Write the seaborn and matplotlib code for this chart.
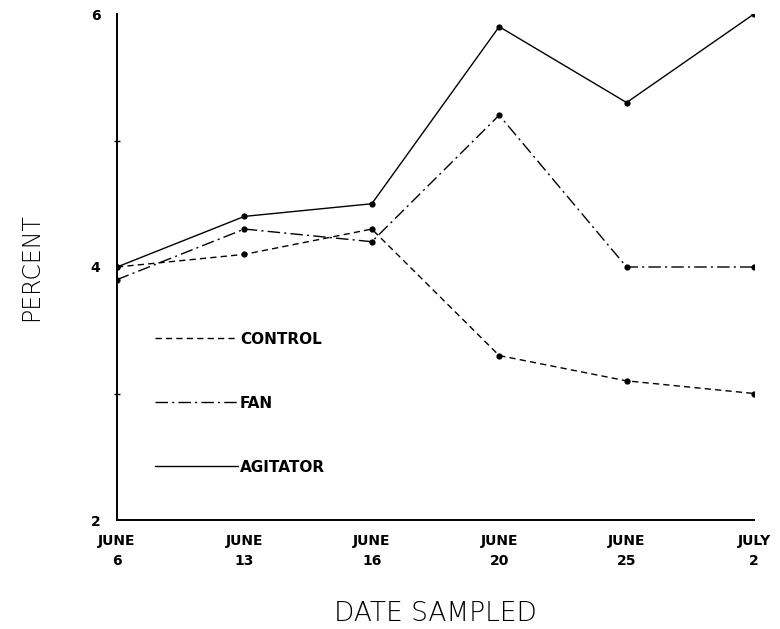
import matplotlib
matplotlib.use("Agg")
import matplotlib.pyplot as plt
import seaborn as sns
import pandas as pd

dates = ["JUNE\n6", "JUNE\n13", "JUNE\n16", "JUNE\n20", "JUNE\n25", "JULY\n2"]
control = [4.0, 4.1, 4.3, 3.3, 3.1, 3.0]
fan = [3.9, 4.3, 4.2, 5.2, 4.0, 4.0]
agitator = [4.0, 4.4, 4.5, 5.9, 5.3, 6.0]
series_names = ["CONTROL", "FAN", "AGITATOR"]
y_major = [2, 4, 6]
y_minor = [3, 5]

rows = []
for name, vals in zip(series_names, [control, fan, agitator]):
    for d, v in zip(dates, vals):
        rows.append({"date": d, "percent": v, "series": name})
df = pd.DataFrame(rows)

sns.set_theme(style="white")
plt.rcParams["font.family"] = ["DejaVu Sans"]
plt.rcParams["text.color"] = "black"
plt.rcParams["axes.labelcolor"] = "black"
plt.rcParams["xtick.color"] = "black"
plt.rcParams["ytick.color"] = "black"

fig = plt.figure(figsize=(7.8, 6.29), dpi=100)
ax = fig.add_axes([117 / 780, 1 - 520 / 629, (754 - 117) / 780, (520 - 14) / 629])

sns.lineplot(
    data=df, x="date", y="percent", hue="series", style="series",
    hue_order=series_names, style_order=series_names,
    palette={"CONTROL": "black", "FAN": "black", "AGITATOR": "black"},
    dashes={"CONTROL": (4.5, 3), "FAN": (9, 3, 1.5, 3), "AGITATOR": ""},
    markers={"CONTROL": "o", "FAN": "o", "AGITATOR": "o"},
    markersize=4.5, markeredgewidth=0, linewidth=1.0,
    sort=False, ax=ax,
)

ax.set_xlim(0, len(dates) - 1)
ax.set_ylim(2, 6)
ax.set_yticks(y_major)
ax.set_yticks(y_minor, minor=True)
ax.set_yticklabels([str(v) for v in y_major], fontsize=10, fontweight="bold")
ax.set_xticks(range(len(dates)))
ax.set_xticklabels(dates, fontsize=10, fontweight="bold", linespacing=1.55)
ax.tick_params(axis="x", direction="in", length=4, width=1, pad=10)
ax.tick_params(axis="y", which="major", direction="inout", length=8, width=1, pad=8)
ax.tick_params(axis="y", which="minor", direction="inout", length=5, width=1, left=True)

for s in ["top", "right"]:
    ax.spines[s].set_visible(False)
for s in ["left", "bottom"]:
    ax.spines[s].set_color("black")
    ax.spines[s].set_linewidth(1.4)

ax.set_xlabel("DATE SAMPLED", fontsize=19, fontweight="light", labelpad=24)
ax.set_ylabel("PERCENT", fontsize=17, fontweight="light", labelpad=34)

leg = ax.legend(
    loc="center left", bbox_to_anchor=(0.06, 0.231), frameon=False,
    handlelength=5.4, handletextpad=0.15, labelspacing=3.2,
    borderpad=0, borderaxespad=0,
    prop={"size": 11, "weight": "bold"},
)
for line in leg.get_lines():
    line.set_marker("")
    line.set_linewidth(1.0)

ax.grid(False)
fig.savefig("out.png", dpi=100, facecolor="white")
